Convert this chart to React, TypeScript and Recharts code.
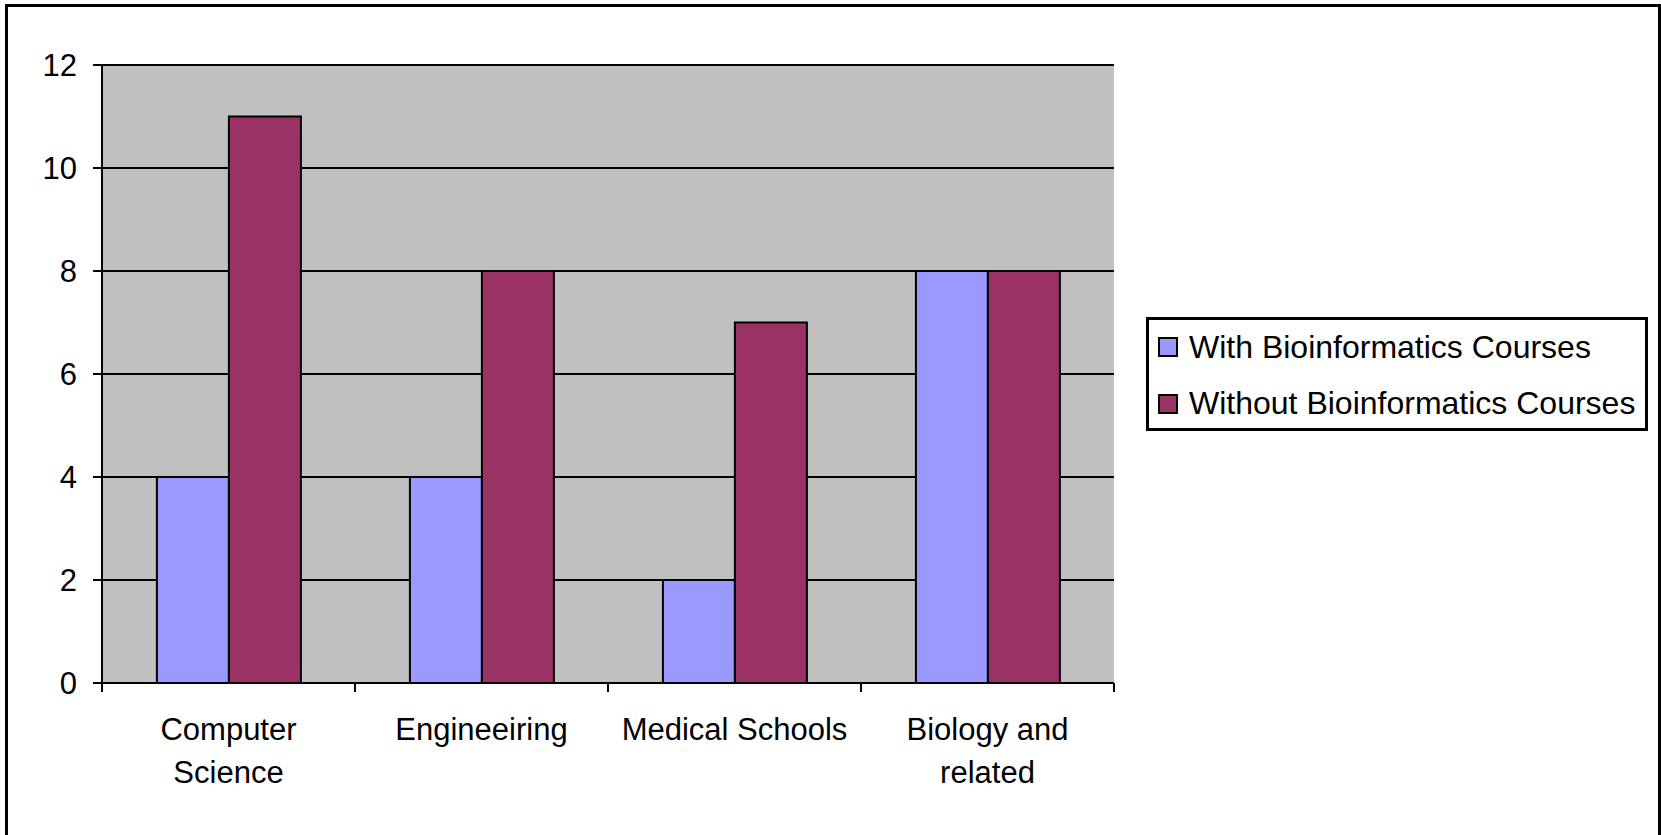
import React from 'react';
import { BarChart, Bar, XAxis, YAxis, CartesianGrid, Legend } from 'recharts';

const categories = ['Computer Science', 'Engineeiring', 'Medical Schools', 'Biology and related'];
const tickLines = [['Computer', 'Science'], ['Engineeiring'], ['Medical Schools'], ['Biology and', 'related']];
const withCourses = [4, 4, 2, 8];
const withoutCourses = [11, 8, 7, 8];
const yTicks = [0, 2, 4, 6, 8, 10, 12];

const data = categories.map((name, i) => ({
  name,
  with: withCourses[i],
  without: withoutCourses[i],
}));

const FONT = '"Liberation Sans", Arial, sans-serif';
const PLOT_W = 1012;
const BAND = PLOT_W / categories.length;

const CategoryTick = (props: any) => {
  const { x, y, payload, index } = props;
  const lines = tickLines[index] || [payload.value];
  const left = x - BAND / 2;
  const right = x + BAND / 2;
  return (
    <g>
      <line x1={left} x2={left} y1={y - 9} y2={y} stroke="#000" strokeWidth={2} />
      {index === categories.length - 1 && (
        <line x1={right} x2={right} y1={y - 9} y2={y} stroke="#000" strokeWidth={2} />
      )}
      <text x={x} y={y + 48} textAnchor="middle" fill="#000" fontSize={31} fontFamily={FONT}>
        {lines.map((l: string, i: number) => (
          <tspan key={i} x={x} dy={i === 0 ? 0 : 43}>{l}</tspan>
        ))}
      </text>
    </g>
  );
};

const LegendBox = ({ payload }: any) => (
  <div
    style={{
      position: 'relative',
      width: 502,
      height: 114,
      boxSizing: 'border-box',
      border: '3px solid #000',
      background: '#fff',
      fontFamily: FONT,
      fontSize: 32,
      color: '#000',
    }}
  >
    {(payload || []).map((entry: any, i: number) => (
      <div
        key={entry.value}
        style={{
          position: 'absolute',
          left: 9,
          top: 7 + i * 56.5,
          height: 40,
          display: 'flex',
          alignItems: 'center',
          whiteSpace: 'nowrap',
        }}
      >
        <span
          style={{
            display: 'inline-block',
            width: 20,
            height: 20,
            boxSizing: 'border-box',
            border: '2px solid #000',
            background: entry.color,
            marginRight: 11,
          }}
        />
        <span>{entry.value}</span>
      </div>
    ))}
  </div>
);

const App = () => {
  return (
    <div style={{ position: 'absolute', left: 0, top: 0, width: 1661, height: 835, overflow: 'hidden', background: '#fff' }}>
      <div
        style={{
          position: 'absolute',
          left: 5,
          top: 4,
          width: 1656,
          height: 900,
          boxSizing: 'border-box',
          border: '3px solid #000',
        }}
      />
      <BarChart
        width={1661}
        height={835}
        data={data}
        margin={{ top: 65, right: 547, bottom: 52, left: 0 }}
        barCategoryGap="21.7%"
        barGap={0}
        style={{ position: 'absolute', left: 0, top: 0, fontFamily: FONT }}
      >
        <CartesianGrid
          vertical={false}
          fill="#C0C0C0"
          stroke="#000"
          strokeWidth={2}
          fillOpacity={1}
        />
        <XAxis
          dataKey="name"
          height={100}
          tickSize={9}
          tickMargin={0}
          tickLine={false}
          interval={0}
          axisLine={{ stroke: '#000', strokeWidth: 2 }}
          tick={<CategoryTick />}
        />
        <XAxis
          xAxisId="top"
          dataKey="name"
          orientation="top"
          height={0}
          tick={false}
          tickLine={false}
          axisLine={{ stroke: '#808080', strokeWidth: 2 }}
        />
        <YAxis
          width={102}
          domain={[0, 12]}
          ticks={yTicks}
          interval={0}
          tickSize={9}
          tickMargin={16}
          tickLine={{ stroke: '#000', strokeWidth: 2 }}
          axisLine={{ stroke: '#000', strokeWidth: 2 }}
          tick={{ fill: '#000', fontSize: 31, fontFamily: FONT }}
        />
        <YAxis
          yAxisId="right"
          orientation="right"
          width={0}
          domain={[0, 12]}
          tick={false}
          tickLine={false}
          axisLine={{ stroke: '#808080', strokeWidth: 2 }}
        />
        <Legend
          layout="vertical"
          align="center"
          verticalAlign="middle"
          content={<LegendBox />}
          wrapperStyle={{ position: 'absolute', left: 1146, top: 317, width: 502, height: 114 }}
        />
        <Bar
          dataKey="with"
          name="With Bioinformatics Courses"
          fill="#9999FF"
          stroke="#000"
          strokeWidth={2}
          isAnimationActive={false}
        />
        <Bar
          dataKey="without"
          name="Without Bioinformatics Courses"
          fill="#993366"
          stroke="#000"
          strokeWidth={2}
          isAnimationActive={false}
        />
      </BarChart>
    </div>
  );
};

export default App;
